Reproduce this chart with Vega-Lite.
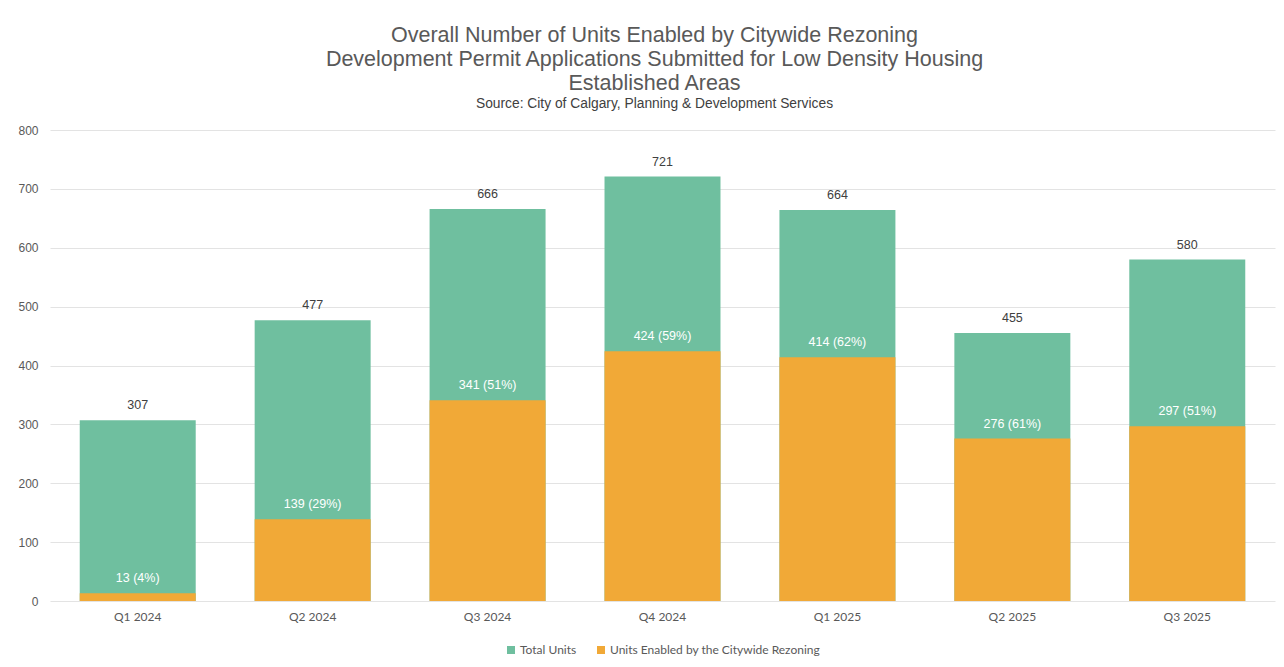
{
  "$schema": "https://vega.github.io/schema/vega-lite/v6.json",
  "autosize": "none",
  "width": 1225,
  "height": 471,
  "padding": {"left": 50, "top": 130, "right": 9, "bottom": 66},
  "background": "#ffffff",
  "title": {
    "text": [
      "Overall Number of Units Enabled by Citywide Rezoning",
      "Development Permit Applications Submitted for Low Density Housing",
      "Established Areas"
    ],
    "subtitle": "Source: City of Calgary, Planning & Development Services",
    "anchor": "middle",
    "dx": -8,
    "font": "Liberation Sans",
    "fontSize": 21.5,
    "fontWeight": "normal",
    "color": "#595959",
    "lineHeight": 24,
    "subtitleFont": "Liberation Sans",
    "subtitleFontSize": 13.8,
    "subtitleColor": "#404040",
    "subtitlePadding": 3,
    "offset": 13
  },
  "data": {
    "values": [
      {"quarter": "Q1 2024", "total": 307, "enabled": 13},
      {"quarter": "Q2 2024", "total": 477, "enabled": 139},
      {"quarter": "Q3 2024", "total": 666, "enabled": 341},
      {"quarter": "Q4 2024", "total": 721, "enabled": 424},
      {"quarter": "Q1 2025", "total": 664, "enabled": 414},
      {"quarter": "Q2 2025", "total": 455, "enabled": 276},
      {"quarter": "Q3 2025", "total": 580, "enabled": 297}
    ]
  },
  "encoding": {
    "x": {
      "field": "quarter",
      "type": "nominal",
      "sort": null,
      "title": null,
      "scale": {"paddingInner": 0.337, "paddingOuter": 0.17},
      "axis": {
        "labelAngle": 0,
        "ticks": false,
        "domain": false,
        "labelFont": "Lato",
        "labelFontSize": 12,
        "labelColor": "#595959",
        "labelPadding": 10
      }
    }
  },
  "layer": [
    {
      "mark": {"type": "bar", "color": "#6fbf9f"},
      "encoding": {
        "y": {
          "field": "total",
          "type": "quantitative",
          "title": null,
          "scale": {"domain": [0, 800], "nice": false},
          "axis": {
            "values": [0, 100, 200, 300, 400, 500, 600, 700, 800],
            "domain": false,
            "ticks": false,
            "gridColor": "#e3e3e3",
            "gridWidth": 1,
            "labelFont": "Liberation Sans",
            "labelFontSize": 12,
            "labelColor": "#595959",
            "labelPadding": 12
          }
        },
        "color": {
          "datum": "Total Units",
          "type": "nominal",
          "scale": {
            "domain": ["Total Units", "Units Enabled by the Citywide Rezoning"],
            "range": ["#6fbf9f", "#f1a937"]
          },
          "legend": {
            "title": null,
            "orient": "bottom",
            "direction": "horizontal",
            "symbolType": "square",
            "symbolSize": 64,
            "symbolStrokeWidth": 0,
            "labelFont": "Lato",
            "labelFontSize": 12,
            "labelColor": "#595959",
            "labelOffset": 3,
            "labelLimit": 400,
            "columnPadding": 18,
            "offset": 22
          }
        }
      }
    },
    {
      "mark": {"type": "bar"},
      "encoding": {
        "y": {"field": "enabled", "type": "quantitative"},
        "color": {"datum": "Units Enabled by the Citywide Rezoning", "type": "nominal"}
      }
    },
    {
      "mark": {
        "type": "text",
        "baseline": "bottom",
        "dy": -8,
        "font": "Liberation Sans",
        "fontSize": 12.5,
        "color": "#404040"
      },
      "encoding": {
        "y": {"field": "total", "type": "quantitative"},
        "text": {"field": "total", "type": "quantitative"}
      }
    },
    {
      "transform": [
        {
          "calculate": "datum.enabled + ' (' + format(datum.enabled / datum.total, '.0%') + ')'",
          "as": "label"
        }
      ],
      "mark": {
        "type": "text",
        "baseline": "bottom",
        "dy": -8,
        "font": "Liberation Sans",
        "fontSize": 12.5,
        "color": "#ffffff"
      },
      "encoding": {
        "y": {"field": "enabled", "type": "quantitative"},
        "text": {"field": "label", "type": "nominal"}
      }
    }
  ],
  "config": {
    "view": {"stroke": null},
    "legend": {
      "layout": {"bottom": {"anchor": "middle"}}
    }
  }
}
